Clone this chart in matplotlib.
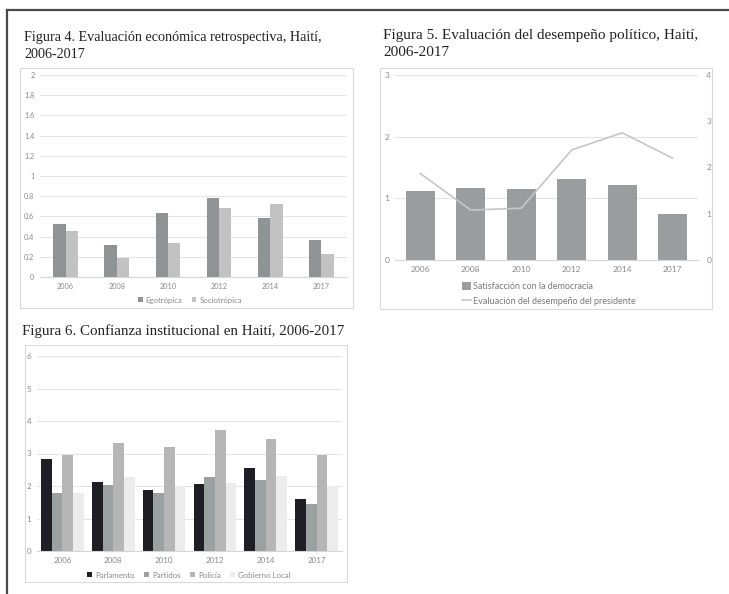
import matplotlib
matplotlib.use("Agg")
import matplotlib.pyplot as plt
import numpy as np
from matplotlib.patches import Rectangle
from matplotlib.lines import Line2D

# =========================
# DATOS
# =========================
anios = ["2006", "2008", "2010", "2012", "2014", "2017"]

# Figura 4
egotropica = [0.52, 0.32, 0.63, 0.78, 0.58, 0.37]
sociotropica = [0.46, 0.19, 0.34, 0.68, 0.72, 0.23]

# Figura 5
satisfaccion = [1.12, 1.17, 1.15, 1.31, 1.21, 0.75]
desempeno_presidente = [1.87, 1.08, 1.12, 2.38, 2.75, 2.20]

# Figura 6
parlamento = [2.83, 2.12, 1.87, 2.05, 2.55, 1.61]
partidos = [1.79, 2.02, 1.80, 2.27, 2.20, 1.46]
policia = [2.95, 3.31, 3.19, 3.72, 3.46, 2.95]
gobierno_local = [1.77, 2.28, 2.00, 2.10, 2.32, 2.00]

W, H = 729, 594
TICK_FONT = "Lato"
TITLE_FONT = "Liberation Serif"
GRID = "#e4e4e4"
TXT = "#8a8a8a"


def fx(px):
    return px / W


def fy(py):
    return 1 - py / H


def add_axes(x0, y0, x1, y1):
    return fig.add_axes([fx(x0), fy(y1), fx(x1) - fx(x0), fy(y0) - fy(y1)])


def estilo(ax, ymax, paso, fs):
    ax.set_xlim(-0.5, 5.5)
    ax.set_ylim(0, ymax)
    ax.set_yticks(np.arange(0, ymax + paso / 2, paso))
    ax.yaxis.grid(True, color=GRID, linewidth=0.8)
    ax.set_axisbelow(True)
    for s in ["top", "right", "left"]:
        ax.spines[s].set_visible(False)
    ax.spines["bottom"].set_color("#d6d6d6")
    ax.spines["bottom"].set_linewidth(0.8)
    ax.tick_params(length=0, labelsize=fs, labelcolor=TXT, pad=4)
    ax.set_xticks(range(len(anios)))
    ax.set_xticklabels(anios)
    for lbl in ax.get_xticklabels() + ax.get_yticklabels():
        lbl.set_fontfamily(TICK_FONT)


def caja(x0, y0, x1, y1):
    fig.add_artist(Rectangle((fx(x0), fy(y1)), fx(x1) - fx(x0), fy(y0) - fy(y1),
                             transform=fig.transFigure, facecolor="white",
                             edgecolor="#dadada", linewidth=0.8, zorder=0))


fig = plt.figure(figsize=(W / 100, H / 100), dpi=100)
fig.patch.set_facecolor("white")

# marco de la pagina
fig.add_artist(Line2D([fx(7), fx(7)], [fy(10), 0], color="#4a4a4a", linewidth=1.6))
fig.add_artist(Line2D([fx(7), 1], [fy(10), fy(10)], color="#4a4a4a", linewidth=1.6))

caja(20, 68, 353, 308)
caja(380, 68, 712, 309)
caja(25, 345, 347, 582)

x = np.arange(len(anios))

# =========================
# FIGURA 4
# =========================
fig.text(fx(24), fy(37), "Figura 4. Evaluación económica retrospectiva, Haití,",
         fontfamily=TITLE_FONT, fontsize=10.2, va="center", color="#222222")
fig.text(fx(24), fy(54), "2006-2017", fontfamily=TITLE_FONT, fontsize=10.2,
         va="center", color="#222222")

ax1 = add_axes(40, 75, 347, 277)
w = 0.24
ax1.bar(x - w / 2, egotropica, w, color="#909394", label="Egotrópica")
ax1.bar(x + w / 2, sociotropica, w, color="#c2c2c2", label="Sociotrópica")
estilo(ax1, 2, 0.2, 5.3)
ax1.set_yticklabels(["0", "0.2", "0.4", "0.6", "0.8", "1", "1.2", "1.4", "1.6", "1.8", "2"])
ax1.legend(loc="center", bbox_to_anchor=(fx(190), fy(300)), bbox_transform=fig.transFigure,
           ncol=2, frameon=False, handlelength=0.6, handleheight=0.6,
           handletextpad=0.4, columnspacing=1.2, labelcolor=TXT,
           prop={"family": TICK_FONT, "size": 5.6})

# =========================
# FIGURA 5
# =========================
fig.text(fx(383), fy(35), "Figura 5. Evaluación del desempeño político, Haití,",
         fontfamily=TITLE_FONT, fontsize=11.0, va="center", color="#222222")
fig.text(fx(383), fy(53), "2006-2017", fontfamily=TITLE_FONT, fontsize=11.0,
         va="center", color="#222222")

ax2 = add_axes(395, 75, 698, 260)
b = ax2.bar(x, satisfaccion, 0.57, color="#9a9c9d", label="Satisfacción con la democracia")
estilo(ax2, 3, 1, 6.0)
ax2b = ax2.twinx()
l, = ax2b.plot(x, desempeno_presidente, color="#c6c6c6", linewidth=1.2,
               label="Evaluación del desempeño del presidente")
ax2b.set_ylim(0, 4)
ax2b.set_yticks(range(5))
for s in ax2b.spines.values():
    s.set_visible(False)
ax2b.tick_params(length=0, labelsize=6.0, labelcolor=TXT, pad=6)
for lbl in ax2b.get_yticklabels():
    lbl.set_fontfamily(TICK_FONT)
ax2b.legend([b, l], [b.get_label(), l.get_label()], loc="upper left",
            bbox_to_anchor=(fx(454), fy(274)), bbox_transform=fig.transFigure,
            ncol=1, frameon=False, handlelength=1.0, handleheight=0.9,
            handletextpad=0.2, labelspacing=0.6, labelcolor="#7a7a7a",
            prop={"family": TICK_FONT, "size": 6.5})

# =========================
# FIGURA 6
# =========================
fig.text(fx(22), fy(331), "Figura 6. Confianza institucional en Haití, 2006-2017",
         fontfamily=TITLE_FONT, fontsize=10.8, va="center", color="#222222")

ax3 = add_axes(37, 356, 342, 551)
w = 0.21
series = [(parlamento, "#1f1e25", "Parlamento"),
          (partidos, "#9ba0a1", "Partidos"),
          (policia, "#b6b6b6", "Policía"),
          (gobierno_local, "#ececec", "Gobierno Local")]
for i, (vals, col, nom) in enumerate(series):
    ax3.bar(x + (i - 1.5) * w, vals, w, color=col, label=nom)
estilo(ax3, 6, 1, 5.8)
ax3.legend(loc="center", bbox_to_anchor=(fx(189), fy(575)), bbox_transform=fig.transFigure,
           ncol=4, frameon=False, handlelength=0.6, handleheight=0.6,
           handletextpad=0.4, columnspacing=1.2, labelcolor=TXT,
           prop={"family": TICK_FONT, "size": 5.7})

plt.savefig("out.png", dpi=100)
plt.close()
